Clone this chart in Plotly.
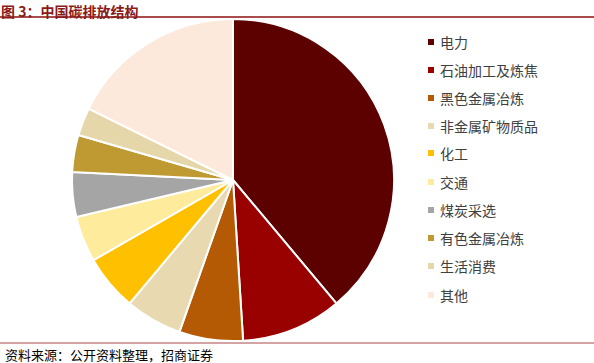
import plotly.graph_objects as go

labels = ["电力", "石油加工及炼焦", "黑色金属冶炼", "非金属矿物质品", "化工",
          "交通", "煤炭采选", "有色金属冶炼", "生活消费", "其他"]
values = [38.9, 10.1, 6.4, 5.7, 5.6, 4.6, 4.5, 3.7, 2.8, 17.7]
colors = ["#5C0000", "#990000", "#B45A04", "#E8D9B0", "#FFC000",
          "#FFEB9C", "#A5A5A5", "#BF9A33", "#E6D7AA", "#FCE9DC"]

W, H = 594, 363
FONT = "Noto Sans CJK SC"

fig = go.Figure()
fig.add_trace(go.Pie(
    labels=labels, values=values, sort=False, direction="clockwise", rotation=0,
    marker=dict(colors=colors, line=dict(color="white", width=2)),
    textinfo="none", hoverinfo="label+percent",
    domain=dict(x=[72 / W, 394 / W], y=[(H - 341) / H, (H - 19) / H]),
    showlegend=False,
))

shapes = [
    dict(type="line", xref="paper", yref="paper", x0=0, x1=1,
         y0=(H - 17) / H, y1=(H - 17) / H, line=dict(color="#8B1010", width=1.5)),
    dict(type="line", xref="paper", yref="paper", x0=0, x1=1,
         y0=(H - 343) / H, y1=(H - 343) / H, line=dict(color="#A84848", width=1)),
]
annotations = [
    dict(text="<b>图 3：中国碳排放结构</b>", x=0, y=1, xref="paper", yref="paper",
         xanchor="left", yanchor="top", showarrow=False, borderpad=0,
         font=dict(family=FONT, size=14, color="#8B1A1A")),
    dict(text="资料来源：公开资料整理，招商证券", x=3 / W, y=(H - 354) / H, xref="paper", yref="paper",
         xanchor="left", yanchor="middle", showarrow=False,
         font=dict(family=FONT, size=13, color="#000000")),
]

legend_y = [42, 70, 98, 126, 153, 182, 210, 238, 266, 295]
for lab, col, ly in zip(labels, colors, legend_y):
    shapes.append(dict(type="rect", xref="paper", yref="paper",
                       x0=428 / W, x1=434 / W, y0=(H - ly - 3) / H, y1=(H - ly + 3) / H,
                       fillcolor=col, line=dict(width=0)))
    annotations.append(dict(text=lab, x=438 / W, y=(H - ly) / H, xref="paper", yref="paper",
                            xanchor="left", yanchor="middle", showarrow=False,
                            font=dict(family=FONT, size=14, color="#404040")))

fig.update_layout(
    width=W, height=H, margin=dict(l=0, r=0, t=0, b=0),
    paper_bgcolor="white", plot_bgcolor="white",
    shapes=shapes, annotations=annotations, showlegend=False,
)
fig.write_html("out.html", config={"displayModeBar": False},
               post_script="document.body.style.margin='0';document.body.style.padding='0';")
